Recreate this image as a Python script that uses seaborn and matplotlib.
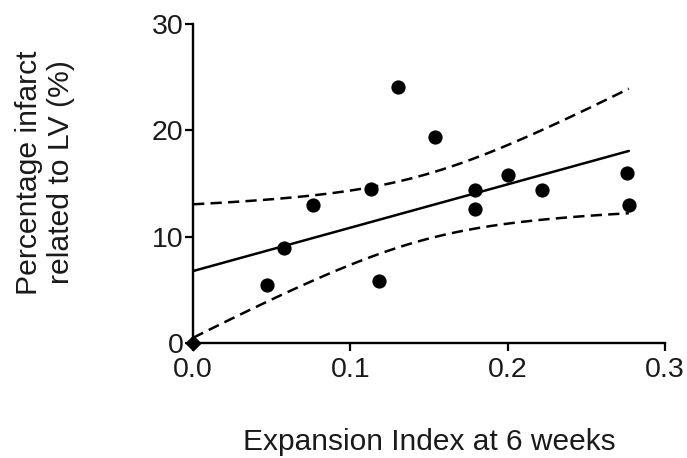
import numpy as np
import pandas as pd
import matplotlib
matplotlib.use("Agg")
import matplotlib.pyplot as plt
import seaborn as sns

# data
expansion_index = [0.0, 0.047, 0.058, 0.076, 0.113, 0.118, 0.130, 0.154,
                   0.179, 0.179, 0.200, 0.222, 0.276, 0.277]
infarct_pct = [0.0, 5.5, 8.9, 13.0, 14.5, 5.8, 24.1, 19.4,
               14.4, 12.6, 15.8, 14.4, 16.0, 13.0]
x_ticks = [0.0, 0.1, 0.2, 0.3]
x_ticklabels = ["0.0", "0.1", "0.2", "0.3"]
y_ticks = [0, 10, 20, 30]

df = pd.DataFrame({"ei": expansion_index, "pct": infarct_pct})

sns.set_theme(style="ticks")
plt.rcParams["font.family"] = ["Liberation Sans", "DejaVu Sans"]

fig, ax = plt.subplots(figsize=(6.87, 4.58), dpi=100)
fig.subplots_adjust(left=0.281, right=0.968, bottom=0.251, top=0.948)

# fitted line (scatter drawn separately)
sns.regplot(data=df, x="ei", y="pct", ci=None, ax=ax, color="black",
            scatter=False, line_kws={"lw": 1.8})

# points: the one sitting on the origin shows as a small diamond
on_origin = (df["ei"] == 0) & (df["pct"] == 0)
sns.scatterplot(data=df[~on_origin], x="ei", y="pct", ax=ax, color="black",
                s=105, linewidth=0, clip_on=False, zorder=3)
sns.scatterplot(data=df[on_origin], x="ei", y="pct", ax=ax, color="black",
                marker="D", s=70, linewidth=0, clip_on=False, zorder=5)

# 95% confidence band of the fit, drawn as dashed lines
x = np.array(expansion_index)
y = np.array(infarct_pct)
n = len(x)
slope, intercept = np.polyfit(x, y, 1)
resid = y - (intercept + slope * x)
s_err = np.sqrt(np.sum(resid ** 2) / (n - 2))
try:
    from scipy import stats
    t_val = stats.t.ppf(0.975, n - 2)
except ImportError:
    t_val = 2.179  # t(0.975, df=12)
xs = np.linspace(x.min(), x.max(), 100)
fit = intercept + slope * xs
half = t_val * s_err * np.sqrt(1 / n + (xs - x.mean()) ** 2 / np.sum((x - x.mean()) ** 2))
band = pd.DataFrame({"x": np.concatenate([xs, xs]),
                     "y": np.concatenate([fit + half, fit - half]),
                     "side": ["upper"] * len(xs) + ["lower"] * len(xs)})
for side, grp in band.groupby("side"):
    sns.lineplot(data=grp, x="x", y="y", ax=ax, color="black", lw=1.8,
                 linestyle=(0, (4.5, 2.5)))

ax.set_xlim(0, 0.3)
ax.set_ylim(0, 30)
ax.set_xticks(x_ticks)
ax.set_yticks(y_ticks)
ax.set_xticklabels(x_ticklabels)
ax.tick_params(labelsize=20.5, width=1.6, length=6, direction="out", color="black",
               labelcolor="#1a1a1a")
ax.tick_params(axis="y", pad=1)
ax.tick_params(axis="x", pad=4)
for sp in ["left", "bottom"]:
    ax.spines[sp].set_linewidth(1.7)
    ax.spines[sp].set_color("black")
sns.despine(ax=ax)

ax.set_xlabel("Expansion Index at 6 weeks", fontsize=21.5, color="#1a1a1a")
ax.set_ylabel("Percentage infarct\nrelated to LV (%)", fontsize=21.7, color="#1a1a1a")
ax.xaxis.set_label_coords(0.5, -0.265)
ax.yaxis.set_label_coords(-0.25, 0.535)

fig.savefig("out.png", dpi=100)
